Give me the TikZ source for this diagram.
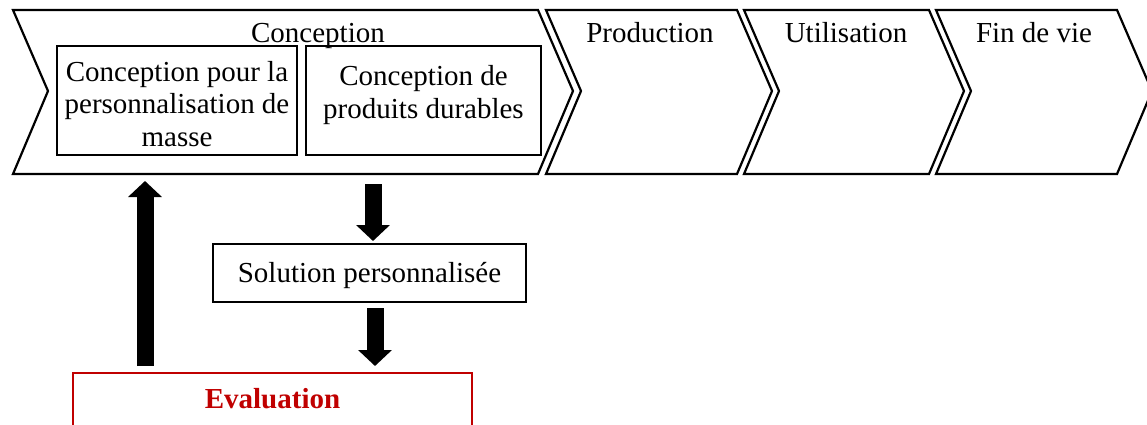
\documentclass[tikz,border=0pt]{standalone}
\usepackage{fontspec}
\setmainfont{Liberation Serif}
\usetikzlibrary{arrows.meta}
\definecolor{evred}{HTML}{C00000}
\begin{document}
\begin{tikzpicture}[x=1pt,y=-1pt,
  chev/.style={draw=black,line width=2.2pt,fill=white,line join=miter},
  lab/.style={font=\fontsize{29}{32.5}\selectfont,inner sep=0pt,outer sep=0pt,align=center},
  inbox/.style={draw=black,line width=2.2pt,inner sep=0pt,outer sep=0pt,align=center,font=\fontsize{29}{32.5}\selectfont},
  evalbox/.style={draw=evred,line width=2.5pt,inner sep=0pt,outer sep=0pt},
  evaltext/.style={font=\fontsize{29}{32.5}\selectfont\bfseries,text=evred,inner sep=0pt},
  blockarrow/.style={line width=17pt,-{Triangle[width=33pt,length=16pt]}},
]
\useasboundingbox (0,0) rectangle (1147,425);
\clip (0,0) rectangle (1147,425);

% chevrons
\draw[chev] (13,10) -- (538,10) -- (573,91) -- (538,174) -- (13,174) -- (48,91) -- cycle;
\draw[chev] (546,10) -- (737,10) -- (772,91) -- (737,174) -- (546,174) -- (581,91) -- cycle;
\draw[chev] (744,10) -- (929,10) -- (964,91) -- (929,174) -- (744,174) -- (779,91) -- cycle;
\draw[chev] (936,10) -- (1117,10) -- (1152,91) -- (1117,174) -- (936,174) -- (971,91) -- cycle;
\coordinate (cbot) at (0,174);

\node[lab,anchor=base] (tconc) at (318,42.5) {Conception};
\node[lab,anchor=base] (tprod) at (650,42.5) {Production};
\node[lab,anchor=base] (tutil) at (846,42.5) {Utilisation};
\node[lab,anchor=base] (tfin) at (1034,42.5) {Fin de vie};

% inner boxes
\node[inbox,minimum width=240,minimum height=109] (b1) at (177,100.5) {};
\node[lab] (b1t) at (177,104) {Conception pour la\\personnalisation de\\masse};
\node[inbox,minimum width=235,minimum height=109] (b2) at (423.5,100.5) {};
\node[lab] (b2t) at (423.5,95) {Conception de\\produits durables};

% solution
\node[inbox,minimum width=313,minimum height=58] (sol) at (369.5,273) {};
\node[lab,anchor=base] (solt) at (369.5,282) {Solution personnalisée};

% evaluation
\node[evalbox,minimum width=399,minimum height=90,anchor=north] (eval) at (272.5,373) {};
\node[evaltext,anchor=base] (evaltxt) at (272.5,408) {Evaluation};

% arrows
\coordinate (ax1) at (145,0);
\coordinate (ax2) at (373,0);
\coordinate (ax3) at (375,0);
\draw[blockarrow,shorten <=7pt,shorten >=7pt] (eval.north -| ax1) -- (cbot -| ax1);
\draw[blockarrow,shorten <=10pt,shorten >=3pt] (cbot -| ax2) -- (sol.north -| ax2);
\draw[blockarrow,shorten <=6pt,shorten >=7pt] (sol.south -| ax3) -- (eval.north -| ax3);
\end{tikzpicture}
\end{document}
